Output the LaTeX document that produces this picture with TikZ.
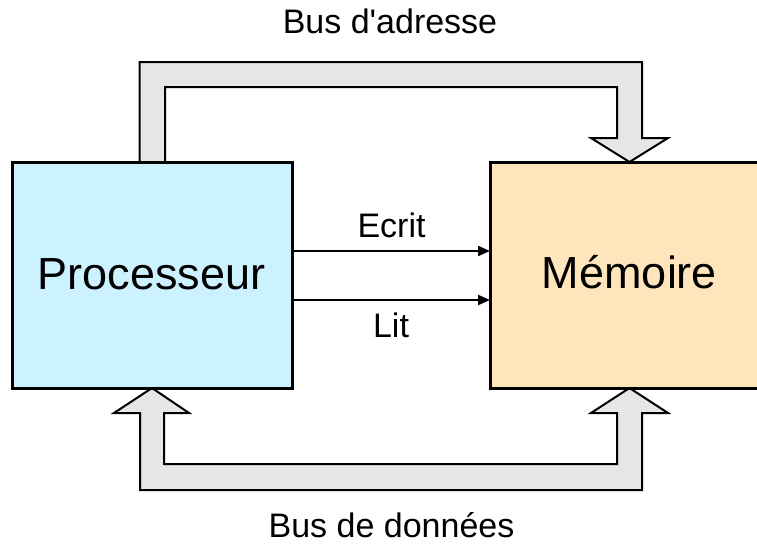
\documentclass[tikz,border=0pt]{standalone}
\usepackage{fontspec}
\setmainfont{Liberation Sans}
\usetikzlibrary{arrows.meta,calc,positioning}
\definecolor{procfill}{RGB}{204,241,255}
\definecolor{memfill}{RGB}{255,229,188}
\definecolor{busfill}{RGB}{230,230,230}
\tikzset{
	unit box/.style={draw,line width=3pt,inner sep=0pt,outer sep=0pt,
		font=\fontsize{45}{50}\selectfont},
	bus/.style={draw,fill=busfill,line width=2pt,line join=miter},
	sig/.style={line width=2pt,-{Triangle[length=12pt,width=10pt]}},
	sig label/.style={font=\fontsize{34}{40}\selectfont,anchor=base},
	bus label/.style={sig label}
}

\begin{document}
\begin{tikzpicture}[x=1pt,y=-1pt]
      \useasboundingbox (0,0) rectangle (757,544);
      % address bus, from the top of the processor down into the memory
      \draw[bus] (139.5,162) -- (139.5,62) -- (642,62) -- (642,138) -- (668,138)
         -- (629.5,162) -- (591,138) -- (617,138) -- (617,87) -- (165,87) -- (165,162);
      % data bus, both ends point up
      \draw[bus] (152,388) -- (189,413) -- (164,413) -- (164,464) -- (617,464)
         -- (617,413) -- (591,413) -- (629.5,388) -- (668,413) -- (642,413)
         -- (642,490) -- (140,490) -- (140,413) -- (114,413) -- cycle;
      \node[unit box,fill=procfill,minimum width=280pt,minimum height=226pt] (proc) at (152,275) {};
      % memory runs off the right edge
      \node[unit box,fill=memfill,minimum width=290pt,minimum height=226pt] (mem) at (635,275) {};
      \node[sig label,font=\fontsize{45}{50}\selectfont] (proctext) at (151.5,289) {Processeur};
      \node[sig label,font=\fontsize{45}{50}\selectfont] (memtext) at (629.5,288) {Mémoire};
      \draw[sig] ([yshift=24pt]proc.east) -- ([yshift=24pt]mem.west);
      \draw[sig] ([yshift=-25pt]proc.east) -- ([yshift=-25pt]mem.west);
      \node[sig label] (write) at (391.5,237) {Ecrit};
      \node[sig label] (read) at (391,337) {Lit};
      \node[bus label] (addr) at (390,33) {Bus d\textquotesingle adresse};
      \node[bus label] (data) at (391.5,537) {Bus de données};
   \end{tikzpicture}
\end{document}
